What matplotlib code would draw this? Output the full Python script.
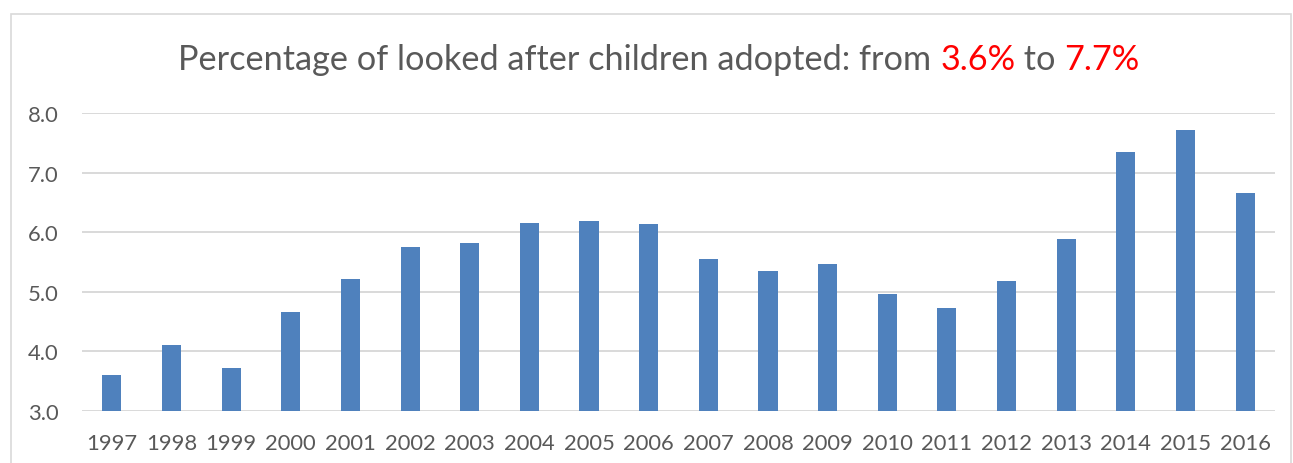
import matplotlib
matplotlib.use("Agg")
import matplotlib.pyplot as plt
from matplotlib.patches import Rectangle

years = [str(y) for y in range(1997, 2017)]
values = [3.60, 4.11, 3.72, 4.66, 5.21, 5.75, 5.82, 6.15, 6.18, 6.14,
          5.55, 5.35, 5.47, 4.96, 4.73, 5.17, 5.89, 7.34, 7.71, 6.65]
yticks = [3.0, 4.0, 5.0, 6.0, 7.0, 8.0]
title_parts = [("Percentage of looked after children adopted: from ", "#595959"),
               ("3.6%", "#FF0000"), (" to ", "#595959"), ("7.7%", "#FF0000")]

plt.rcParams['font.family'] = ['Lato', 'DejaVu Sans']

W, H = 1293, 464
fig = plt.figure(figsize=(W / 100, H / 100), dpi=100)
fig.patch.set_facecolor("white")

# outer chart frame
fig.patches.append(Rectangle((11 / W, -0.05), (1291 - 11) / W, 1.05 - 15 / H,
                             transform=fig.transFigure, fill=False,
                             edgecolor="#d9d9d9", linewidth=1.2))

ax = fig.add_axes([82 / W, (H - 411.7) / H, (1275 - 82) / W, (411.7 - 114) / H])
x = list(range(len(years)))
ax.bar(x, [v - 3.0 for v in values], bottom=3.0, width=0.32, color="#4F81BD", zorder=3)
ax.set_xlim(-0.5, len(years) - 0.5)
ax.set_ylim(3.0, 8.0)
ax.set_yticks(yticks)
ax.set_yticklabels([f"{t:.1f}" for t in yticks])
ax.set_xticks(x)
ax.set_xticklabels(years)
ax.grid(axis="y", color="#d9d9d9", linewidth=1.4, zorder=0)
for s in ax.spines.values():
    s.set_visible(False)
ax.tick_params(axis="both", length=0, colors="#595959", labelsize=15.8)
ax.tick_params(axis="x", pad=16)
ax.tick_params(axis="y", pad=17)

# multi-coloured title
fig.canvas.draw()
renderer = fig.canvas.get_renderer()
fs = 24.7
texts = []
for s, c in title_parts:
    t = fig.text(0, 0, s, color=c, fontsize=fs, va="center", ha="left")
    texts.append(t)
widths = [t.get_window_extent(renderer).width for t in texts]
total = sum(widths)
cx = 659
xpos = cx - total / 2
ty = H - 60
for t, w in zip(texts, widths):
    t.set_position((xpos / W, ty / H))
    xpos += w

fig.savefig("out.png", dpi=100, facecolor="white")
